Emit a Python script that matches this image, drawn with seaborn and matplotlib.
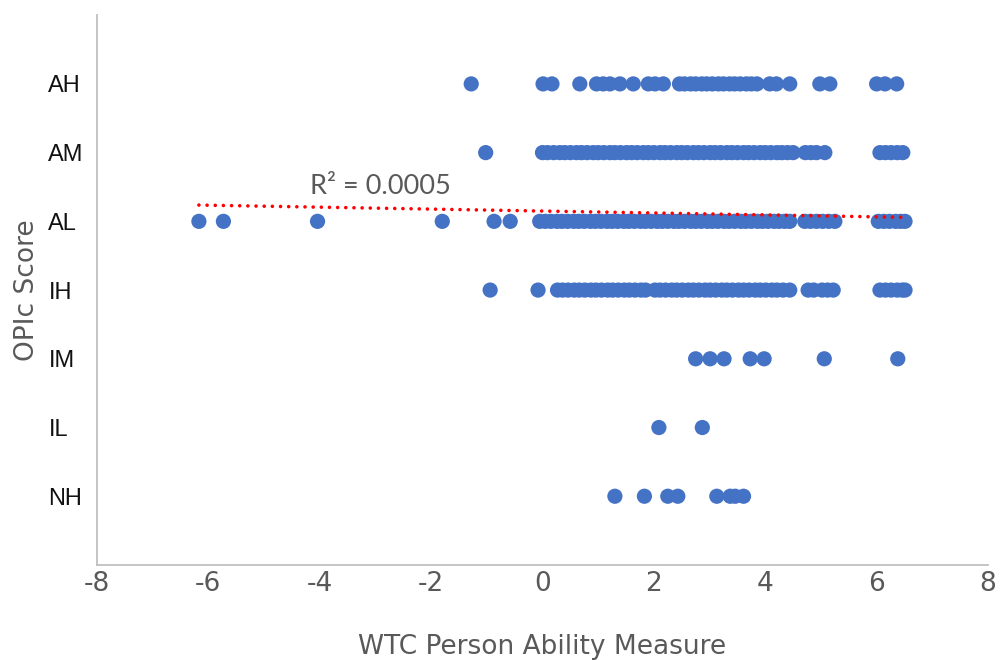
import matplotlib
matplotlib.use("Agg")
import matplotlib.pyplot as plt
import numpy as np
import pandas as pd
import seaborn as sns

sns.set_style("white")

levels = ["NH", "IL", "IM", "IH", "AL", "AM", "AH"]

# WTC person ability measures, one list per OPIc level
ah_x = [-1.28, 0.01, 0.17, 0.67, 0.97, 1.09, 1.21, 1.39, 1.63, 1.90, 2.02, 2.17,
        2.46, 2.55, 2.66, 2.75, 2.86, 2.95, 3.05, 3.16, 3.25, 3.36, 3.45, 3.55,
        3.66, 3.75, 3.85, 4.08, 4.20, 4.44, 4.98, 5.16, 6.0, 6.15, 6.36]
am_x = [-1.02, 0.0, 0.09, 0.2, 0.31, 0.4, 0.5, 0.61, 0.7, 0.8, 0.91, 1.0, 1.1,
        1.21, 1.3, 1.4, 1.51, 1.6, 1.7, 1.81, 1.9, 2.0, 2.11, 2.2, 2.3, 2.41,
        2.5, 2.6, 2.71, 2.8, 2.9, 3.01, 3.1, 3.2, 3.31, 3.4, 3.5, 3.61, 3.7,
        3.8, 3.91, 4.0, 4.1, 4.21, 4.3, 4.4, 4.5, 4.72, 4.82, 4.92, 5.07,
        6.06, 6.16, 6.26, 6.37, 6.47]
al_x = [-6.17, -5.73, -4.04, -1.80, -0.87, -0.58, -0.05, 0.05, 0.15, 0.26,
        0.35, 0.45, 0.56, 0.65, 0.75, 0.86, 0.95, 1.05, 1.16, 1.25, 1.35, 1.46,
        1.55, 1.65, 1.76, 1.85, 1.95, 2.06, 2.15, 2.25, 2.36, 2.45, 2.55, 2.66,
        2.75, 2.85, 2.96, 3.05, 3.15, 3.26, 3.35, 3.45, 3.56, 3.65, 3.75, 3.86,
        3.95, 4.05, 4.16, 4.25, 4.35, 4.44, 4.71, 4.81, 4.92, 5.03, 5.14, 5.25,
        6.03, 6.13, 6.23, 6.34, 6.43, 6.51]
ih_x = [-0.94, -0.08, 0.27, 0.36, 0.46, 0.57, 0.66, 0.76, 0.87, 0.96, 1.06,
        1.17, 1.26, 1.36, 1.47, 1.56, 1.66, 1.77, 1.85, 2.02, 2.11, 2.21, 2.32,
        2.41, 2.51, 2.62, 2.71, 2.81, 2.92, 3.01, 3.11, 3.22, 3.31, 3.41, 3.52,
        3.61, 3.71, 3.82, 3.91, 4.01, 4.12, 4.21, 4.32, 4.44, 4.77, 4.87, 5.02,
        5.12, 5.22, 6.06, 6.16, 6.26, 6.37, 6.46, 6.51]
im_x = [2.75, 3.01, 3.26, 3.73, 3.98, 5.06, 6.38]
il_x = [2.09, 2.87]
nh_x = [1.30, 1.83, 2.25, 2.43, 3.13, 3.37, 3.46, 3.61]

# linear trend line as shown in the chart
trend_slope = -0.0141
trend_intercept = 5.150
r2_text = "R² = 0.0005"

x_ticks = [-8, -6, -4, -2, 0, 2, 4, 6, 8]

rows = []
for score, xs in zip(range(1, 8), [nh_x, il_x, im_x, ih_x, al_x, am_x, ah_x]):
    for v in xs:
        rows.append({"wtc": v, "opic": score})
df = pd.DataFrame(rows)

fig = plt.figure(figsize=(10, 6.6), dpi=100)
ax = fig.add_axes([0.097, 0.144, 0.891, 0.833])

sns.scatterplot(data=df, x="wtc", y="opic", color="#4472C4", s=120,
                edgecolor="none", ax=ax, zorder=3)

tx = np.array([df["wtc"].min(), df["wtc"].max()])
ax.plot(tx, trend_intercept + trend_slope * tx, color="#FF0000", lw=2.6,
        linestyle=(0, (0.01, 2.25)), dash_capstyle="round", zorder=4)
ax.text(-2.92, 5.5, r2_text, fontsize=19.5, color="#595959", family="Lato",
        ha="center", va="center")

ax.set_xlim(-8, 8)
ax.set_ylim(0, 8)
ax.set_xticks(x_ticks)
ax.set_xticklabels([str(t) for t in x_ticks])
ax.set_yticks(range(1, 8))
ax.set_yticklabels(levels)

for lab in ax.get_yticklabels():
    lab.set_horizontalalignment("left")
    lab.set_fontsize(17)
    lab.set_color("#111111")
    lab.set_family("Liberation Sans")
for lab in ax.get_xticklabels():
    lab.set_fontsize(19)
    lab.set_color("#595959")
    lab.set_family("DejaVu Sans")

ax.tick_params(axis="y", length=0, pad=35)
ax.tick_params(axis="x", length=0, pad=4)

ax.set_xlabel("WTC Person Ability Measure", fontsize=19, color="#595959",
              family="DejaVu Sans")
ax.set_ylabel("OPIc Score", fontsize=19, color="#595959", family="DejaVu Sans")
ax.xaxis.set_label_coords(0.5, -0.125)
ax.yaxis.set_label_coords(-0.064, 0.5)

for side in ["top", "right"]:
    ax.spines[side].set_visible(False)
for side in ["left", "bottom"]:
    ax.spines[side].set_color("#BFBFBF")
    ax.spines[side].set_linewidth(1.3)

fig.savefig("out.png", dpi=100)
